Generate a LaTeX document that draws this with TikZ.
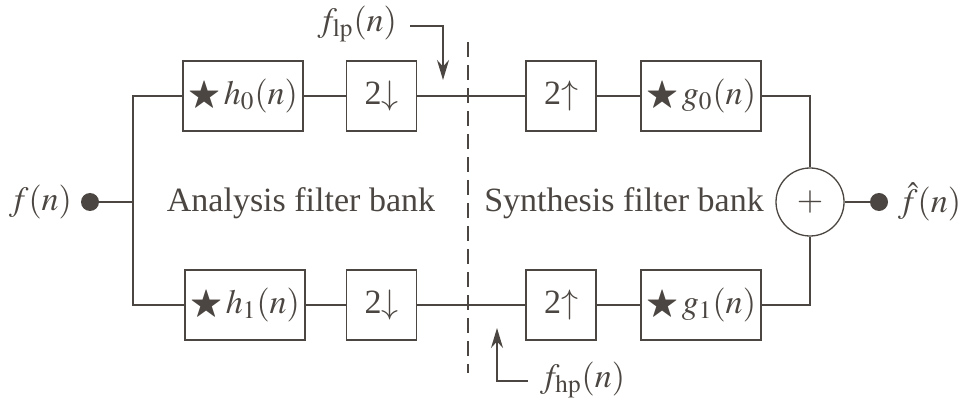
\documentclass[tikz,border=0pt]{standalone}
\usepackage{mathptmx}
\usepackage{amssymb}
\usepackage{fontspec}
\setmainfont{Liberation Serif}
\usetikzlibrary{arrows.meta}
\definecolor{ink}{HTML}{4B4641}
\begin{document}
\begin{tikzpicture}[x=0.5pt,y=-0.5pt,
  every node/.style={text=ink, font=\fontsize{17}{20}\selectfont},
  wire/.style={draw=ink, line width=0.65pt},
  fbox/.style={draw=ink, line width=0.65pt, minimum width=60pt, minimum height=35pt, inner sep=0pt},
  rbox/.style={draw=ink, line width=0.65pt, minimum width=35pt, minimum height=35pt, inner sep=0pt},
  dot/.style={circle, fill=ink, minimum size=9pt, inner sep=0pt},
  tip/.style={-{Stealth[length=10pt,width=6pt]}}]
\useasboundingbox (0,0) rectangle (961,405);
% top branch
\node[fbox] (h0) at (243,96) {$\bigstar\, h_0(n)$};
\node[rbox] (d0) at (381.5,96) {2$\downarrow$};
\node[rbox] (u0) at (561,96) {2$\uparrow$};
\node[fbox] (g0) at (701,96) {$\bigstar\, g_0(n)$};
% bottom branch
\node[fbox] (h1) at (245,305) {$\bigstar\, h_1(n)$};
\node[rbox] (d1) at (381.5,305) {2$\downarrow$};
\node[rbox] (u1) at (561,305) {2$\uparrow$};
\node[fbox] (g1) at (701,305) {$\bigstar\, g_1(n)$};
% input / output
\node[dot] (in) at (90,202) {};
\node[anchor=east] (fin) at (79,202) {$f(n)$};
\coordinate (j) at (133,202);
\node[circle, draw=ink, line width=0.65pt, minimum size=34pt, inner sep=0pt] (sum) at (810,202) {$+$};
\node[dot] (out) at (879,202) {};
\node[anchor=west] (fout) at (891,202) {$\hat{f}(n)$};
% labels
\node (ana) at (301,203) {Analysis filter bank};
\node (syn) at (624,203) {Synthesis filter bank};
% wires
\draw[wire] (in) -- (j);
\draw[wire] (h0.west) -| (j) |- (h1.west);
\draw[wire] (h0) -- (d0);
\draw[wire] (d0) -- (u0);
\draw[wire] (u0) -- (g0);
\draw[wire] (h1) -- (d1);
\draw[wire] (d1) -- (u1);
\draw[wire] (u1) -- (g1);
\draw[wire] (g0.east) -| (sum.north);
\draw[wire] (g1.east) -| (sum.south);
\draw[wire] (sum) -- (out);
% dashed divider
\coordinate (dtop) at (468,42);
\coordinate (dbot) at (468,373);
\draw[draw=ink, line width=0.65pt, dash pattern=on 7.5pt off 4pt] (dtop) -- (dbot);
% f_lp arrow
\node[anchor=east] (flp) at (404,24) {$f_{\mathrm{lp}}(n)$};
\coordinate (a1) at (410,26);
\coordinate (a2) at (443,80);
\draw[wire, tip] (a1) -| (a2);
% f_hp arrow
\node[anchor=west] (fhp) at (533,380) {$f_{\mathrm{hp}}(n)$};
\coordinate (b1) at (528,381);
\coordinate (b2) at (497,328);
\draw[wire, tip] (b1) -| (b2);
\end{tikzpicture}
\end{document}
